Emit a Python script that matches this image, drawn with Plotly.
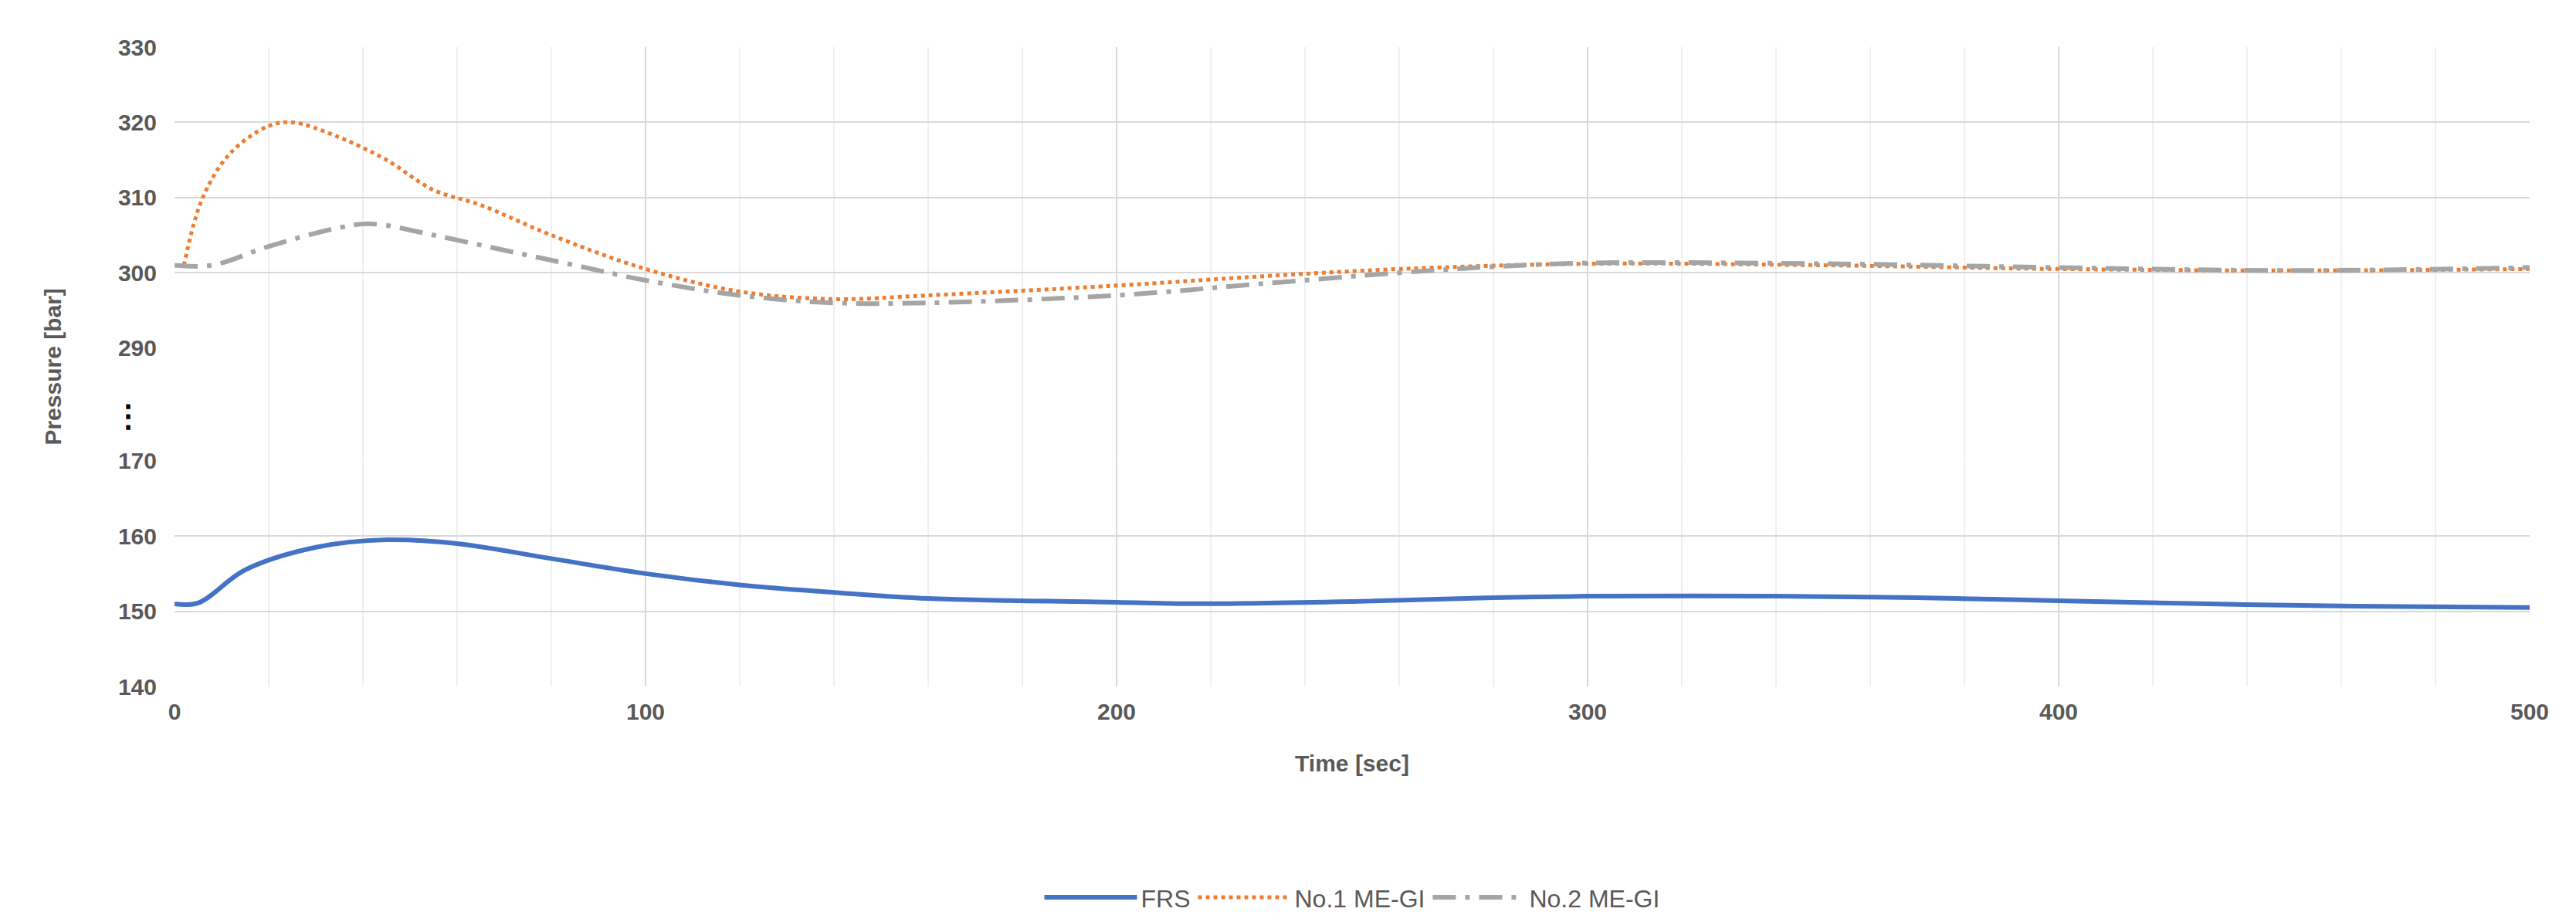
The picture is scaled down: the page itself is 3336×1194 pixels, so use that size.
import plotly.graph_objects as go
from plotly.subplots import make_subplots

frs_t = [0, 5, 15, 30, 45, 60, 80, 100, 120, 140, 160, 200, 215, 250, 280, 300, 340, 370, 400, 430, 460, 500]
frs_p = [151, 151.1, 155.5, 158.5, 159.5, 159, 157, 155, 153.5, 152.5, 151.7, 151.2, 151, 151.3, 151.8, 152, 152, 151.8, 151.4, 151, 150.7, 150.5]
me1_t = [2, 6, 12, 20, 25, 35, 45, 55, 65, 80, 100, 120, 140, 160, 200, 230, 260, 300, 350, 400, 450, 500]
me1_p = [301, 310, 316, 319.5, 320, 318, 315, 311, 309, 305, 300.5, 297.5, 296.5, 297, 298.3, 299.5, 300.5, 301.2, 301, 300.5, 300.3, 300.5]
me2_t = [0, 8, 20, 35, 42, 55, 70, 85, 100, 120, 140, 160, 200, 230, 260, 280, 300, 350, 400, 450, 500]
me2_p = [301, 301, 303.5, 306, 306.5, 305, 303, 301, 299, 297, 296, 296, 297, 298.5, 300, 300.8, 301.3, 301.2, 300.7, 300.3, 300.7]

fig = make_subplots(rows=2, cols=1, shared_xaxes=True, row_heights=[4, 3], vertical_spacing=1.5/8.5)
F = "Liberation Sans"
GC = "#595959"
fig.add_trace(go.Scatter(x=frs_t, y=frs_p, name="FRS", mode="lines", line=dict(color="#4472C4", width=6, shape="spline")), row=2, col=1)
fig.add_trace(go.Scatter(x=me1_t, y=me1_p, name="No.1 ME-GI", mode="lines", line=dict(color="#ED7D31", width=5, dash="dot", shape="spline")), row=1, col=1)
fig.add_trace(go.Scatter(x=me2_t, y=me2_p, name="No.2 ME-GI", mode="lines", line=dict(color="#A5A5A5", width=6, dash="longdashdot", shape="spline")), row=1, col=1)

ax = dict(showgrid=True, gridcolor="#D9D9D9", gridwidth=2, zeroline=False, tickfont=dict(family=F, size=30, color=GC))
fig.update_xaxes(range=[0, 500], dtick=100, minor=dict(dtick=20, showgrid=True, gridcolor="#EFEFEF", gridwidth=2),
                 ticklabelstandoff=12, **ax)
fig.update_xaxes(showticklabels=False, row=1, col=1)
fig.update_xaxes(title=dict(text="<b>Time [sec]</b>", font=dict(family=F, size=30, color=GC), standoff=40), row=2, col=1)
fig.update_xaxes(tickprefix="<b>", ticksuffix="</b>")
fig.update_yaxes(tickprefix="<b>", ticksuffix="</b>", ticklabelstandoff=22, **ax)
fig.update_yaxes(range=[290, 330], dtick=10, row=1, col=1)
fig.update_yaxes(range=[140, 170], dtick=10, row=2, col=1)

# continue vertical gridlines through the axis break
for xv in range(20, 500, 20):
    major = xv % 100 == 0
    fig.add_shape(type="line", xref="x2", yref="paper", x0=xv, x1=xv, y0=3/8.5, y1=4.5/8.5,
                  line=dict(color="#D9D9D9" if major else "#EFEFEF", width=2), layer="below")

fig.add_annotation(text="<b>Pressure [bar]</b>", xref="paper", yref="paper", x=-0.058, y=0.5, textangle=-90,
                   showarrow=False, font=dict(family=F, size=30, color=GC))
fig.add_annotation(text="<b>⋮</b>", xref="paper", yref="paper", x=-0.027, y=3.6/8.5, showarrow=False,
                   font=dict(family=F, size=40, color="black"))

fig.update_layout(width=3336, height=1194, plot_bgcolor="white", paper_bgcolor="white",
                  margin=dict(l=218, r=68, t=53, b=292),
                  legend=dict(orientation="h", x=0.5, xanchor="center", y=-0.33, yanchor="middle",
                              font=dict(family=F, size=32, color=GC), itemwidth=120))
fig.write_html("out.html")
